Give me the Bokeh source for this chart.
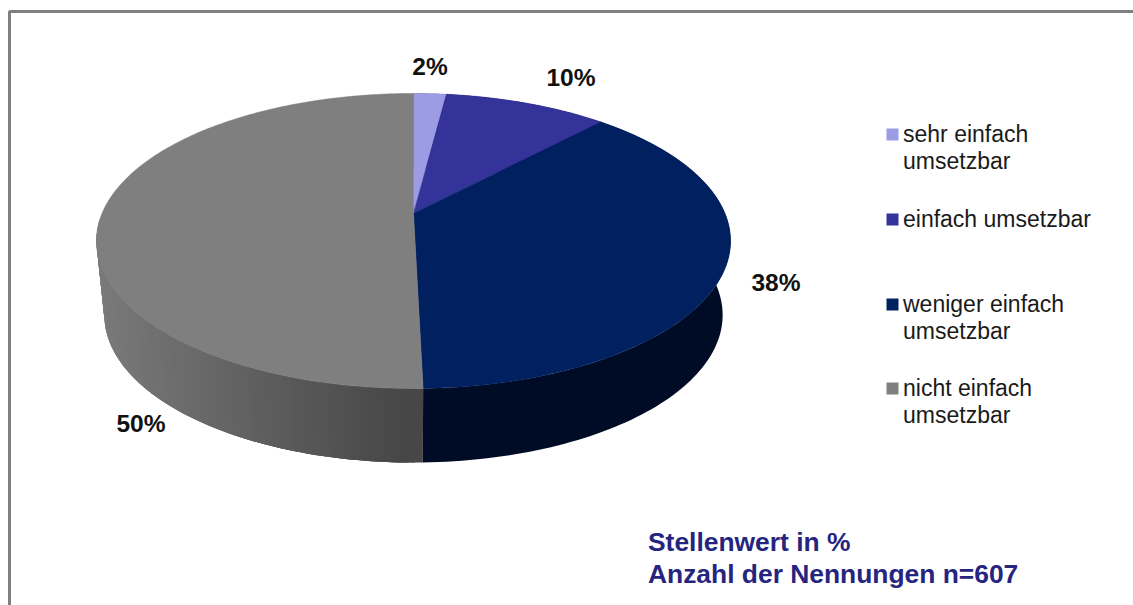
import numpy as np
from bokeh.plotting import figure
from bokeh.models import Range1d
from bokeh.core.properties import value
from bokeh.embed import file_html
from bokeh.resources import INLINE

# ---- data ----
categories = ["sehr einfach umsetzbar", "einfach umsetzbar", "weniger einfach umsetzbar", "nicht einfach umsetzbar"]
legend_lines = [["sehr einfach", "umsetzbar"], ["einfach umsetzbar"], ["weniger einfach", "umsetzbar"], ["nicht einfach", "umsetzbar"]]
values = [2.0, 10.0, 37.6, 50.4]
pct_labels = ["2%", "10%", "38%", "50%"]
note_lines = ["Stellenwert in %", "Anzahl der Nennungen n=607"]

# ---- style / layout ----
top_colors = ["#9c9ce4", "#333399", "#002060", "#7f7f7f"]
legend_colors = ["#9c9ce4", "#333399", "#002060", "#7f7f7f"]
legend_sq_y = [134, 219, 304, 388]
label_xy = [(429.5, 66), (570.5, 77), (775.5, 282), (140.5, 423)]
W, H = 1133, 605
CX, APEX_Y, DEPTH, SHRINK = 413.0, 213.0, 74.0, 0.975
C, A, D = 0.1864, -102.7, 311.5


def project(frac):
    """Perspective projection of the pie's rim for a cumulative fraction."""
    a = 2 * np.pi * np.asarray(frac)
    u, v = np.sin(a), np.cos(a)
    w = C * v + 1
    return CX + D * u / w, (A * v + APEX_Y) / w


def lerp_hex(c0, c1, t):
    c = [round(c0[i] + (c1[i] - c0[i]) * t) for i in range(3)]
    return "#%02x%02x%02x" % tuple(c)


def side_color(i, x):
    if i == 3:  # grey slice: lighter on the left, darker towards the front
        t = float(np.clip((x - 100) / (423 - 100), 0, 1))
        return lerp_hex((122, 122, 122), (70, 70, 70), t)
    if i == 2:
        return "#000b26"
    return "#14143c"


p = figure(width=W, height=H, output_backend="svg", toolbar_location=None,
           x_range=Range1d(0, W), y_range=Range1d(H, 0),
           min_border=0, background_fill_color="white", border_fill_color="white")
p.axis.visible = False
p.grid.visible = False
p.outline_line_color = None

# frame
p.line([9, 9, W], [H, 11, 11], line_color="#808080", line_width=3)

# side wall, built from the slice values; strips overlap so that no seams show
cum = np.concatenate([[0], np.cumsum(values)]) / np.sum(values)
for i in range(len(values)):
    n = max(2, int((cum[i + 1] - cum[i]) * 300))
    fr = np.linspace(cum[i], cum[i + 1], n + 1)
    xs, ys = project(fr)
    bx = CX + (xs - CX) * SHRINK
    by = ys + DEPTH
    if i != 3:
        p.patch(np.concatenate([xs, bx[::-1]]), np.concatenate([ys, by[::-1]]),
                fill_color=side_color(i, 0), line_color=None)
        continue
    # grey slice runs front -> left: draw from its far end so each strip overlaps the next
    px, py, col = [], [], []
    for j in range(n):
        if ys[j] < 225 and ys[j + 1] < 225:
            continue
        e = min(j + 3, n)
        px.append(np.concatenate([xs[j:e + 1], bx[j:e + 1][::-1]]))
        py.append(np.concatenate([ys[j:e + 1], by[j:e + 1][::-1]]))
        col.append(side_color(i, (xs[j] + xs[j + 1]) / 2))
    p.patches(px[::-1], py[::-1], fill_color=col[::-1], line_color=None)

# top face
for i in range(len(values)):
    fr = np.linspace(cum[i], cum[i + 1], max(3, int((cum[i + 1] - cum[i]) * 360)))
    xs, ys = project(fr)
    p.patch(np.concatenate([[CX], xs]), np.concatenate([[APEX_Y], ys]),
            fill_color=top_colors[i], line_color=top_colors[i], line_width=0.5)

# percentage labels
p.text([c[0] for c in label_xy], [c[1] for c in label_xy], text=pct_labels,
       text_font=value("Liberation Sans"), text_font_style="bold", text_font_size="24.5px",
       text_color="#111111", text_align="center", text_baseline="middle")

# legend
p.scatter([892] * 4, legend_sq_y, marker="square", size=12,
          fill_color=legend_colors, line_color=None)
lx, ly, lt = [], [], []
for y, lines in zip(legend_sq_y, legend_lines):
    for k, t in enumerate(lines):
        lx.append(902.5)
        ly.append(y - 1 + k * 27.5)
        lt.append(t)
p.text(lx, ly, text=lt, text_font=value("Liberation Sans"), text_font_size="23px",
       text_color="#1a1a1a", text_align="left", text_baseline="middle")

# note
p.text([647.5, 647.5], [541, 573], text=note_lines, text_font=value("Liberation Sans"),
       text_font_style="bold", text_font_size="26.4px", text_color="#25257f",
       text_align="left", text_baseline="middle")

open("out.html", "w").write(file_html(p, INLINE))
